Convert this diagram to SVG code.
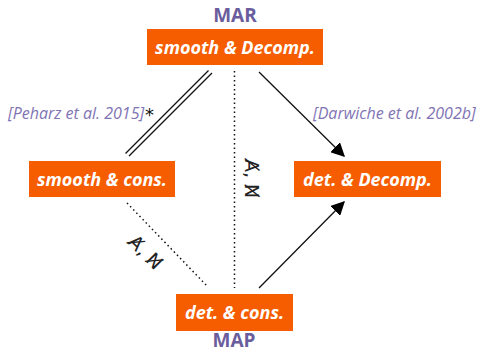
<svg xmlns="http://www.w3.org/2000/svg" width="479" height="353" viewBox="0 0 479 353">
<defs>
<style>
.node rect{fill:#f65c00}
.node text{fill:#fff;font-family:"Open Sans",sans-serif;font-weight:bold;font-style:italic;font-size:18px;text-anchor:middle}
.title{fill:#6a5d9d;font-family:"Open Sans",sans-serif;font-weight:bold;font-size:19px;text-anchor:middle}
.cite{fill:#7f74b4;font-family:"Open Sans",sans-serif;font-style:italic;font-size:16px}
.ln{stroke:#111;stroke-width:1.3;fill:none}
.dot{stroke:#111;stroke-width:1.5;fill:none;stroke-dasharray:1.5 3}
.neg{fill:#222;font-family:"DejaVu Sans",sans-serif;font-size:19px}
</style>
<marker id="ah" viewBox="0 0 10 10" refX="9" refY="5" markerWidth="14" markerHeight="14" markerUnits="userSpaceOnUse" orient="auto">
<path d="M0,0 L10,5 L0,10 z" fill="#000"/>
</marker>
</defs>
<rect width="479" height="353" fill="#fff"/>
<text class="title" x="235" y="22">MAR</text>
<text class="title" x="234" y="347" font-size="18">MAP</text>
<g id="connectors">
<line class="ln" x1="208.5" y1="70.5" x2="125.5" y2="153.5"/>
<line class="ln" x1="212" y1="73" x2="129" y2="156"/>
<line class="dot" x1="234.5" y1="71" x2="234.5" y2="288"/>
<line class="ln" x1="259" y1="72" x2="344" y2="156" marker-end="url(#ah)" stroke-width="1.2"/>
<line class="dot" x1="127" y1="203" x2="208" y2="287"/>
<line class="ln" x1="259" y1="288" x2="344" y2="202" marker-end="url(#ah)" stroke-width="1.2"/>
<text class="neg" transform="translate(245,159) rotate(90)">A̸, N̸</text>
<text class="neg" transform="translate(127,243) rotate(45)">A̸, N̸</text>
</g>
<text class="cite" x="8" y="119">[Peharz et al. 2015]</text>
<text x="145" y="121" font-family="DejaVu Sans,sans-serif" font-size="18" fill="#111">*</text>
<text class="cite" x="313" y="119">[Darwiche et al. 2002b]</text>
<g id="mar" class="node">
<rect x="147" y="29" width="176" height="36"/>
<text x="235" y="54">smooth &amp; Decomp.</text>
</g>
<g id="smooth-cons" class="node">
<rect x="29" y="161" width="146" height="36"/>
<text x="102" y="186">smooth &amp; cons.</text>
</g>
<g id="det-decomp" class="node">
<rect x="294" y="161" width="147" height="36"/>
<text x="367.5" y="186">det. &amp; Decomp.</text>
</g>
<g id="map" class="node">
<rect x="176" y="294" width="117" height="37"/>
<text x="234.5" y="319">det. &amp; cons.</text>
</g>
</svg>
